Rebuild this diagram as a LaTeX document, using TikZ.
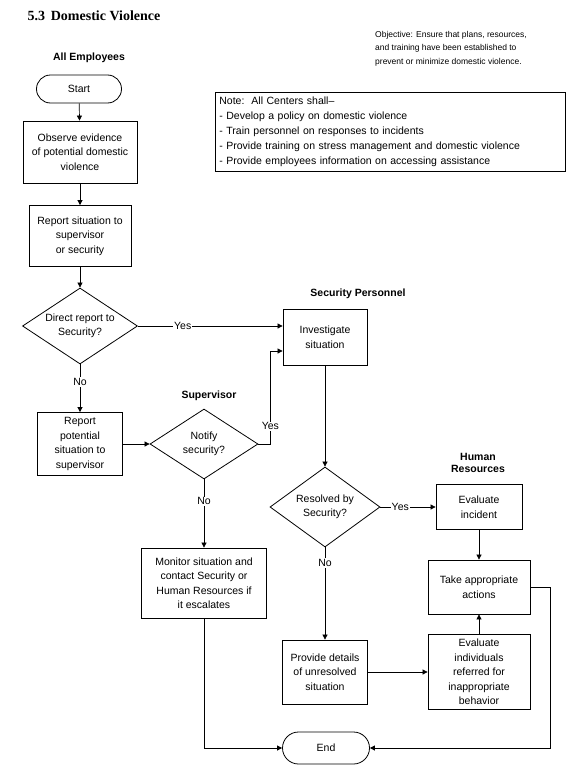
\documentclass[tikz,border=0pt]{standalone}
\usepackage{fontspec}
\setmainfont{Liberation Sans}
\newfontfamily\titlefont{Liberation Serif}
\usetikzlibrary{shapes.geometric,arrows.meta}
\newcommand{\dtext}[1]{\smash{\makebox[0pt]{\raisebox{-2.5pt}{\begin{tabular}{@{}c@{}}#1\end{tabular}}}}}
\begin{document}
\begin{tikzpicture}[x=1pt,y=-1pt,
  proc/.style={draw, line width=0.8pt, inner sep=1pt, align=center, font=\fontsize{10.5}{14.5}\selectfont},
  term/.style={proc},
  dec/.style={draw, diamond, line width=0.8pt, inner sep=0pt, font=\fontsize{10.5}{14.5}\selectfont},
  hdr/.style={font=\bfseries\fontsize{10.5}{14}\selectfont, align=center},
  lbl/.style={fill=white, inner sep=1pt, font=\fontsize{10.5}{12}\selectfont},
  flow/.style={line width=0.7pt, -{Triangle[length=5pt,width=5pt]}},
]
\useasboundingbox (0,0) rectangle (587,771);

% title and headings
\node[anchor=west, font=\titlefont\bfseries\fontsize{14}{16}\selectfont] (title) at (24,16) {5.3\, Domestic Violence};
\node[anchor=north west, align=left, inner sep=0pt, font=\fontsize{8.5}{13.5}\selectfont] (obj) at (375,31)
  {Objective: Ensure that plans, resources,\\and training have been established to\\prevent or minimize domestic violence.};
\node[draw, line width=0.8pt, anchor=north west, minimum width=350, minimum height=79, text width=342, inner sep=4pt, align=left, font=\fontsize{10.5}{15}\selectfont] (note) at (215,92)
  {Note:\ \ All Centers shall--\\- Develop a policy on domestic violence\\- Train personnel on responses to incidents\\- Provide training on stress management and domestic violence\\- Provide employees information on accessing assistance};

\node[hdr] (h1) at (89,58) {All Employees};
\node[hdr] (h2) at (358,294) {Security Personnel};
\node[hdr] (h3) at (209,396) {Supervisor};
\node[hdr] (h4) at (478,463) {Human\\[-2pt]Resources};

% nodes
\node[term, rounded corners=14pt, minimum width=85, minimum height=28] (start) at (79,89) {Start};
\node[proc, minimum width=114, minimum height=62] (obs) at (80,152) {Observe evidence\\of potential domestic\\violence};
\node[proc, minimum width=102, minimum height=61] (rep) at (80,236) {Report situation to\\supervisor\\or security};
\node[dec, minimum width=115, minimum height=76] (d1) at (80,326) {\dtext{Direct report to\\Security?}};
\node[proc, minimum width=85, minimum height=63] (rp) at (80,444) {Report\\potential\\situation to\\supervisor};
\node[dec, minimum width=108, minimum height=70] (d2) at (204,444) {\dtext{Notify\\security?}};
\node[proc, minimum width=125, minimum height=70] (mon) at (204,583) {Monitor situation and\\contact Security or\\Human Resources if\\it escalates};
\node[proc, minimum width=84, minimum height=56] (inv) at (325,337) {Investigate\\situation};
\node[dec, minimum width=110, minimum height=80] (d3) at (325,507) {\dtext{Resolved by\\Security?}};
\node[proc, minimum width=85, minimum height=64] (prov) at (325,672) {Provide details\\of unresolved\\situation};
\node[term, rounded corners=16pt, minimum width=87, minimum height=32] (end) at (326,748) {End};
\node[proc, minimum width=86, minimum height=45] (evi) at (479,507) {Evaluate\\incident};
\node[proc, minimum width=102, minimum height=54] (take) at (479,587) {Take appropriate\\actions};
\node[proc, minimum width=102, minimum height=75] (evind) at (479,672) {Evaluate\\individuals\\referred for\\inappropriate\\behavior};

% connectors
\draw[flow] (start) -- (obs);
\draw[flow] (obs) -- (rep);
\draw[flow] (rep) -- (d1);
\draw[flow] (d1.east) -- node[lbl, pos=0.31]{Yes} (d1.east -| inv.west);
\draw[flow] (d1) -- node[lbl, pos=0.37]{No} (rp);
\draw[flow] (rp) -- (d2);
\draw[flow] (d2.east) -- ++(12,0) -- node[lbl, pos=0.19]{Yes} ++(0,-93) -- ([yshift=-14pt]inv.west);
\draw[flow] (d2) -- node[lbl, pos=0.32]{No} (mon);
\draw[flow] (mon.south) |- (end.west);
\draw[flow] (inv) -- (d3);
\draw[flow] (d3) -- node[lbl, pos=0.36]{Yes} (evi);
\draw[flow] (evi) -- (take);
\draw[flow] (take.east) -- ++(20,0) |- (end.east);
\draw[flow] (d3) -- node[lbl, pos=0.17]{No} (prov);
\draw[flow] (prov) -- (evind);
\draw[flow] (evind) -- (take);
\end{tikzpicture}
\end{document}
